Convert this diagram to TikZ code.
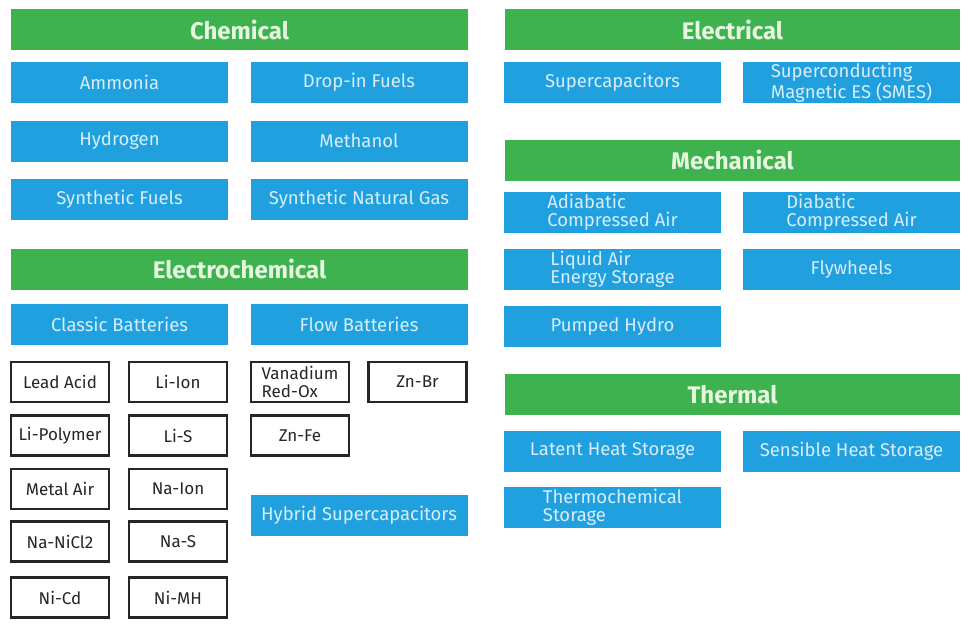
\documentclass[tikz,border=0pt]{standalone}
\usepackage{fontspec}
\setmainfont{Fira Sans}
\definecolor{catgreen}{RGB}{62,178,78}
\definecolor{itemblue}{RGB}{32,160,222}
\definecolor{itemtext}{RGB}{214,238,250}
\definecolor{cattext}{RGB}{230,247,224}
\definecolor{cellline}{RGB}{38,38,38}
\tikzset{
  cat/.style={fill=catgreen,text=cattext,inner sep=0pt,minimum height=41pt,
    font=\bfseries\fontsize{24}{26}\selectfont},
  item/.style={fill=itemblue,text=itemtext,inner sep=0pt,minimum width=217pt,
    minimum height=41pt,align=left,font=\fontsize{18.5}{18}\selectfont},
  cell/.style={draw=cellline,line width=2.2pt,fill=white,text=cellline,inner sep=0pt,
    minimum width=98pt,minimum height=40pt,align=left,font=\fontsize{17}{18}\selectfont},
}
\begin{document}
\begin{tikzpicture}[x=1pt,y=-1pt]
  \useasboundingbox (0,0) rectangle (969,634);
  % chemical
  \node[cat,minimum width=457pt] (chem) at (239.5,30) {Chemical};
  \node[item] (ammonia) at (119.5,82.5) {Ammonia};
  \node[item] (dropin) at (359,82.5) {Drop-in Fuels};
  \node[item] (hydrogen) at (119.5,141) {Hydrogen};
  \node[item] (methanol) at (359,141) {Methanol};
  \node[item] (synfuel) at (119.5,199) {Synthetic Fuels};
  \node[item] (sng) at (359,199) {Synthetic Natural Gas};
  % electrochemical
  \node[cat,minimum width=457pt] (echem) at (239.5,269) {Electrochemical};
  \node[item] (classic) at (119.5,324) {Classic Batteries};
  \node[item] (flow) at (359,324) {Flow Batteries};
  \node[item] (hybrid) at (359,515.5) {Hybrid Supercapacitors};
  \foreach \n/\t/\x/\y in {leadacid/Lead Acid/60/382, liion/Li-Ion/178/382,
      lipoly/Li-Polymer/60/435.5, lis/Li-S/178/435.5,
      metalair/Metal Air/60/489, naion/Na-Ion/178/489,
      nanicl/Na-NiCl2/60/541.5, nas/Na-S/178/541.5,
      nicd/Ni-Cd/60/597.5, nimh/Ni-MH/178/597.5,
      vanadium/{Vanadium\\Red-Ox}/300/382, znbr/Zn-Br/417.5/382,
      znfe/Zn-Fe/300/435.5}
    \node[cell] (\n) at (\x,\y) {\t};
  % electrical
  \node[cat,minimum width=455pt] (elec) at (732.5,30) {Electrical};
  \node[item] (supcap) at (612.5,82.5) {Supercapacitors};
  \node[item] (smes) at (851.5,82.5) {Superconducting\\Magnetic ES (SMES)};
  % mechanical
  \node[cat,minimum width=455pt] (mech) at (732.5,160) {Mechanical};
  \node[item] (adiab) at (612.5,212.5) {Adiabatic\\Compressed Air};
  \node[item] (diab) at (851.5,212.5) {Diabatic\\Compressed Air};
  \node[item] (liqair) at (612.5,269.5) {Liquid Air\\Energy Storage};
  \node[item] (flywheel) at (851.5,269.5) {Flywheels};
  \node[item] (hydro) at (612.5,326.5) {Pumped Hydro};
  % thermal
  \node[cat,minimum width=455pt] (therm) at (732.5,394.5) {Thermal};
  \node[item] (latent) at (612.5,451) {Latent Heat Storage};
  \node[item] (sensible) at (851.5,451) {Sensible Heat Storage};
  \node[item] (thchem) at (612.5,507) {Thermochemical\\Storage};
\end{tikzpicture}
\end{document}
